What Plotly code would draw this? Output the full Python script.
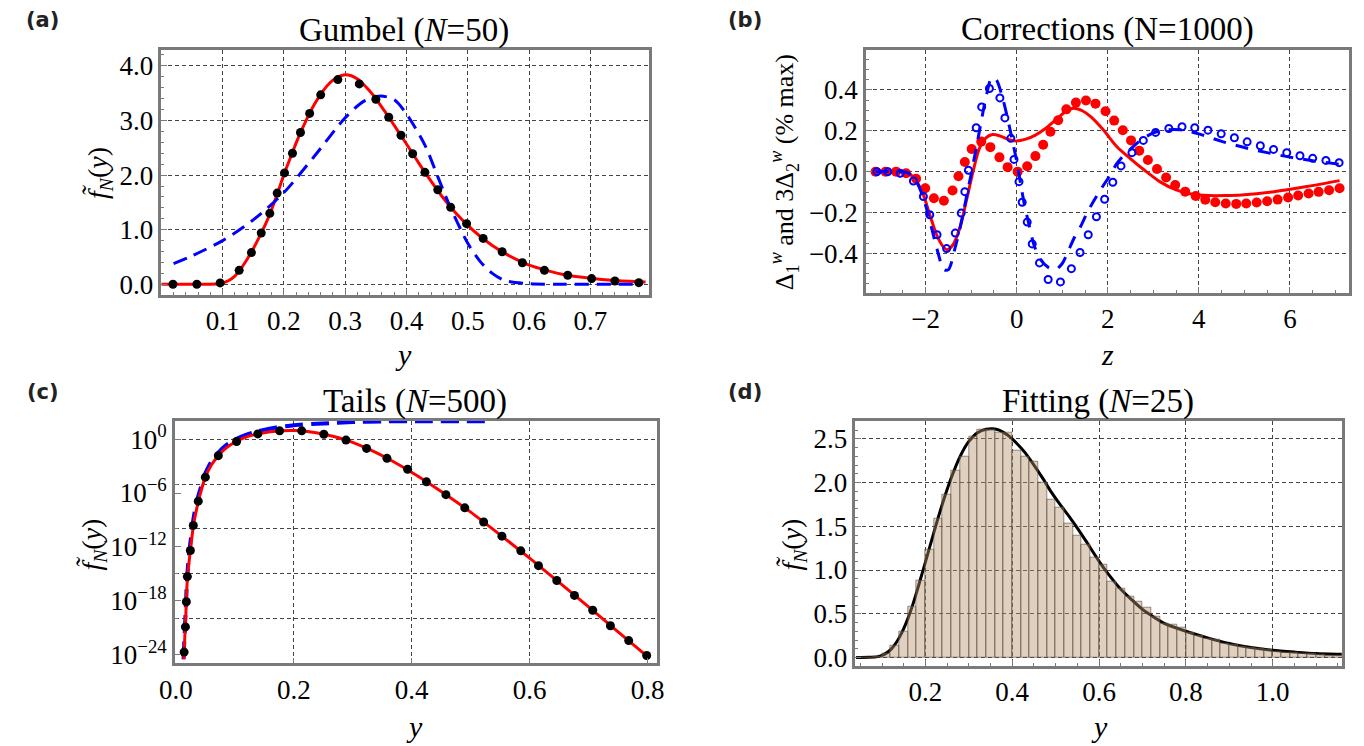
import plotly.graph_objects as go

W, H = 1364, 746

# ---------------- (a) Gumbel (N=50) ----------------
a_exact_x = [0.0, 0.05, 0.09, 0.10, 0.11, 0.12, 0.13, 0.14, 0.15, 0.16, 0.17, 0.18, 0.19, 0.20, 0.21, 0.22,
             0.23, 0.24, 0.25, 0.26, 0.27, 0.28, 0.29, 0.30, 0.31, 0.32, 0.33, 0.34, 0.35, 0.36, 0.37, 0.38,
             0.39, 0.40, 0.42, 0.44, 0.46, 0.48, 0.50, 0.52, 0.54, 0.56, 0.58, 0.60, 0.63, 0.66, 0.70, 0.74, 0.79]
a_exact_y = [0.0, 0.0, 0.005, 0.025, 0.07, 0.15, 0.29, 0.46, 0.65, 0.87, 1.10, 1.37, 1.68, 2.01, 2.30, 2.59,
             2.85, 3.09, 3.30, 3.48, 3.63, 3.74, 3.81, 3.84, 3.82, 3.76, 3.66, 3.54, 3.40, 3.24, 3.08, 2.91,
             2.74, 2.57, 2.22, 1.89, 1.58, 1.31, 1.08, 0.88, 0.71, 0.57, 0.45, 0.35, 0.25, 0.17, 0.11, 0.07, 0.04]
a_gumbel_x = [0.02, 0.05, 0.10, 0.15, 0.20, 0.25, 0.30, 0.33, 0.357, 0.38, 0.40, 0.43, 0.45, 0.47, 0.50,
              0.52, 0.54, 0.56, 0.60, 0.65, 0.78]
a_gumbel_y = [0.38, 0.52, 0.80, 1.18, 1.68, 2.35, 3.05, 3.35, 3.45, 3.38, 3.12, 2.55, 2.00, 1.45, 0.75,
              0.42, 0.20, 0.07, 0.01, 0.0, 0.0]
a_sim_x = [0.019, 0.058, 0.096, 0.127, 0.147, 0.163, 0.177, 0.189, 0.201, 0.214, 0.227, 0.242, 0.260, 0.288,
           0.323, 0.350, 0.371, 0.391, 0.410, 0.430, 0.451, 0.472, 0.498, 0.525, 0.556, 0.589, 0.625, 0.663,
           0.702, 0.740, 0.779]
a_sim_y = [0.0, 0.0, 0.025, 0.255, 0.58, 0.94, 1.30, 1.67, 2.04, 2.40, 2.78, 3.13, 3.47, 3.75,
           3.67, 3.39, 3.06, 2.73, 2.39, 2.05, 1.73, 1.41, 1.11, 0.84, 0.595, 0.395, 0.255, 0.165,
           0.104, 0.06, 0.03]
a_xticks = [0.1, 0.2, 0.3, 0.4, 0.5, 0.6, 0.7]
a_yticks = [0.0, 1.0, 2.0, 3.0, 4.0]

# ---------------- (b) Corrections (N=1000) ----------------
b_line1_z = [-3.1, -2.6, -2.4, -2.2, -2.05, -1.91, -1.76, -1.62, -1.53, -1.40, -1.25, -1.11, -0.96, -0.82,
             -0.67, -0.53, -0.38, -0.20, -0.02, 0.20, 0.41, 0.63, 0.85, 1.07, 1.25, 1.45, 1.63, 1.9, 2.2,
             2.5, 2.8, 3.14, 3.5, 3.86, 4.22, 4.58, 4.94, 5.65, 6.37, 7.09]
b_line1_v = [0.0, 0.0, -0.004, -0.049, -0.114, -0.211, -0.309, -0.366, -0.382, -0.358, -0.276, -0.146, 0.0,
             0.114, 0.167, 0.182, 0.176, 0.159, 0.150, 0.159, 0.179, 0.211, 0.252, 0.293, 0.310, 0.297,
             0.268, 0.205, 0.122, 0.063, 0.008, -0.049, -0.089, -0.111, -0.117, -0.117, -0.114, -0.098,
             -0.073, -0.044]
b_dots1_z = [-3.1, -2.88, -2.65, -2.43, -2.21, -2.01, -1.82, -1.6, -1.41, -1.28, -1.14, -0.99, -0.78, -0.58,
             -0.38, -0.20, 0.02, 0.23, 0.41, 0.58, 0.74, 0.91, 1.09, 1.30, 1.52, 1.73, 1.95, 2.14, 2.33,
             2.51, 2.69, 2.88, 3.08, 3.28, 3.48, 3.70, 3.93, 4.14, 4.36, 4.59, 4.82, 5.04, 5.27, 5.50,
             5.73, 5.96, 6.18, 6.41, 6.63, 6.86, 7.09]
b_dots1_v = [0.0, 0.0, 0.0, -0.008, -0.035, -0.081, -0.13, -0.143, -0.092, -0.023, 0.047, 0.111, 0.147,
             0.12, 0.07, 0.022, 0.0, 0.026, 0.076, 0.132, 0.195, 0.252, 0.305, 0.338, 0.348, 0.333, 0.296,
             0.25, 0.203, 0.153, 0.102, 0.057, 0.013, -0.029, -0.065, -0.098, -0.119, -0.138, -0.150,
             -0.156, -0.158, -0.156, -0.151, -0.145, -0.137, -0.127, -0.117, -0.107, -0.099, -0.091, -0.081]
b_line2_z = [-3.1, -2.6, -2.4, -2.2, -2.05, -1.9, -1.75, -1.6, -1.5, -1.35, -1.22, -1.1, -1.0, -0.89, -0.78,
             -0.67, -0.55, -0.45, -0.31, -0.2, -0.09, 0.0, 0.09, 0.17, 0.27, 0.38, 0.52, 0.7, 0.85, 1.0,
             1.11, 1.25, 1.4, 1.55, 1.7, 1.85, 2.0, 2.2, 2.35, 2.5, 2.7, 3.0, 3.3, 3.6, 4.0, 4.5, 5.0,
             5.5, 6.0, 6.5, 7.1]
b_line2_v = [0.0, 0.0, -0.005, -0.05, -0.13, -0.25, -0.38, -0.48, -0.48, -0.37, -0.25, -0.12, -0.01, 0.115,
             0.245, 0.37, 0.46, 0.45, 0.36, 0.26, 0.146, 0.05, -0.065, -0.163, -0.26, -0.36, -0.43, -0.47,
             -0.48, -0.45, -0.40, -0.33, -0.27, -0.20, -0.14, -0.085, -0.035, 0.04, 0.08, 0.11, 0.15, 0.19,
             0.205, 0.205, 0.185, 0.148, 0.118, 0.093, 0.071, 0.053, 0.036]
b_dots2_z = [-3.07, -2.83, -2.56, -2.27, -2.05, -1.91, -1.75, -1.54, -1.35, -1.22, -1.14, -1.06, -0.89,
             -0.77, -0.60, -0.37, -0.26, -0.13, -0.06, 0.05, 0.12, 0.23, 0.34, 0.50, 0.69, 0.96, 1.20,
             1.39, 1.57, 1.75, 1.93, 2.11, 2.29, 2.53, 2.78, 3.05, 3.34, 3.63, 3.91, 4.20, 4.49, 4.78,
             5.06, 5.35, 5.64, 5.93, 6.22, 6.50, 6.79, 7.08]
b_dots2_v = [0.0, 0.0, -0.008, -0.046, -0.122, -0.211, -0.309, -0.377, -0.301, -0.203, -0.098, 0.007,
             0.215, 0.317, 0.407, 0.361, 0.263, 0.163, 0.06, -0.049, -0.15, -0.247, -0.354, -0.447,
             -0.528, -0.54, -0.475, -0.396, -0.309, -0.221, -0.135, -0.052, 0.028, 0.093, 0.153, 0.192,
             0.211, 0.220, 0.215, 0.203, 0.185, 0.166, 0.146, 0.127, 0.109, 0.093, 0.078, 0.065, 0.055,
             0.044]
b_xticks = [-2, 0, 2, 4, 6]
b_yticks = [-0.4, -0.2, 0.0, 0.2, 0.4]

# ---------------- (c) Tails (N=500), values are log10 f ----------------
c_exact_x = [0.0135, 0.015, 0.017, 0.019, 0.022, 0.026, 0.03, 0.035, 0.04, 0.05, 0.06, 0.072, 0.085, 0.1,
             0.12, 0.14, 0.16, 0.18, 0.2, 0.22, 0.25, 0.29, 0.33, 0.37, 0.41, 0.45, 0.5, 0.55, 0.6, 0.65,
             0.7, 0.75, 0.8]
c_exact_log = [-24.5, -22.3, -19.4, -16.1, -13.9, -11.6, -9.5, -7.85, -6.45, -4.23, -2.9, -1.84, -1.0,
               -0.35, 0.25, 0.6, 0.82, 0.93, 0.95, 0.88, 0.57, -0.13, -1.2, -2.55, -4.1, -5.83, -8.12,
               -10.65, -13.25, -15.95, -18.67, -21.45, -24.2]
c_gumbel_x = [0.013, 0.015, 0.017, 0.019, 0.022, 0.026, 0.03, 0.035, 0.04, 0.05, 0.06, 0.072, 0.085, 0.1,
              0.12, 0.14, 0.17, 0.2, 0.25, 0.3, 0.35, 0.4, 0.53]
c_gumbel_log = [-24.5, -21.5, -18.5, -15.5, -13.0, -10.8, -8.8, -7.1, -5.9, -3.8, -2.5, -1.5, -0.7, -0.05,
                0.5, 0.9, 1.3, 1.55, 1.75, 1.9, 1.97, 2.0, 2.0]
c_sim_x = [0.0140, 0.0162, 0.0178, 0.0195, 0.0246, 0.0296, 0.038, 0.050, 0.072, 0.103, 0.139, 0.176,
           0.2135, 0.251, 0.2885, 0.3235, 0.358, 0.393, 0.425, 0.458, 0.490, 0.522, 0.553, 0.585, 0.615,
           0.646, 0.676, 0.707, 0.737, 0.768, 0.7985]
c_sim_log = [-23.7, -20.9, -18.1, -15.3, -12.4, -9.6, -6.9, -4.23, -1.84, -0.26, 0.58, 0.92, 0.92, 0.55,
             -0.11, -1.03, -2.14, -3.35, -4.75, -6.18, -7.65, -9.22, -10.8, -12.43, -14.08, -15.73,
             -17.39, -19.04, -20.77, -22.42, -24.08]
c_xticks = [0.0, 0.2, 0.4, 0.6, 0.8]
c_ytick_exp = [0, -6, -12, -18, -24]
c_ygrid_exp = [0, -5, -10, -15, -20]
c_xgrid = [0.2, 0.4, 0.6]

# ---------------- (d) Fitting (N=25) ----------------
d_bin_left = [0.04, 0.06, 0.08, 0.10, 0.12, 0.14, 0.16, 0.18, 0.20, 0.22, 0.24, 0.26, 0.28, 0.30, 0.32, 0.34,
              0.36, 0.38, 0.40, 0.42, 0.44, 0.46, 0.48, 0.50, 0.52, 0.54, 0.56, 0.58, 0.60, 0.62, 0.64,
              0.66, 0.68, 0.70, 0.72, 0.74, 0.76, 0.78, 0.80, 0.82, 0.84, 0.86, 0.88, 0.90, 0.92, 0.94,
              0.96, 0.98, 1.00, 1.02, 1.04, 1.06, 1.08, 1.10, 1.12, 1.14]
d_bin_height = [0.0, 0.0, 0.005, 0.04, 0.14, 0.30, 0.58, 0.88, 1.23, 1.59, 1.86, 2.14, 2.29, 2.52, 2.60, 2.60,
                2.57, 2.57, 2.36, 2.29, 2.24, 2.00, 1.80, 1.71, 1.53, 1.39, 1.29, 1.14, 1.06, 0.87, 0.79,
                0.70, 0.64, 0.566, 0.47, 0.385, 0.37, 0.34, 0.28, 0.245, 0.22, 0.20, 0.16, 0.145, 0.126,
                0.115, 0.096, 0.085, 0.07, 0.059, 0.051, 0.047, 0.04, 0.032, 0.025, 0.025]
d_bin_width = 0.02
d_fit_x = [0.04, 0.07, 0.09, 0.10, 0.11, 0.12, 0.13, 0.14, 0.15, 0.16, 0.17, 0.18, 0.19, 0.20, 0.22, 0.24,
           0.26, 0.28, 0.30, 0.32, 0.34, 0.355, 0.37, 0.39, 0.41, 0.43, 0.45, 0.47, 0.49, 0.51, 0.53,
           0.55, 0.57, 0.60, 0.625, 0.65, 0.70, 0.75, 0.80, 0.85, 0.90, 0.95, 1.00, 1.05, 1.10, 1.16]
d_fit_y = [0.0, 0.002, 0.01, 0.025, 0.05, 0.09, 0.15, 0.23, 0.33, 0.45, 0.59, 0.75, 0.92, 1.09, 1.44, 1.77,
           2.06, 2.30, 2.47, 2.57, 2.61, 2.615, 2.60, 2.54, 2.45, 2.34, 2.20, 2.05, 1.89, 1.75, 1.62,
           1.48, 1.33, 1.10, 0.93, 0.78, 0.55, 0.39, 0.30, 0.225, 0.16, 0.115, 0.082, 0.062, 0.045, 0.036]
d_xticks = [0.2, 0.4, 0.6, 0.8, 1.0]
d_yticks = [0.0, 0.5, 1.0, 1.5, 2.0, 2.5]

RED = "#ff0000"
BLUE = "#0000ff"
FRAME = "#7a7a7a"
GRID = "#444444"
SERIF = "Liberation Serif"

fig = go.Figure()

# (a)
fig.add_trace(go.Scatter(x=a_exact_x, y=a_exact_y, mode="lines", xaxis="x", yaxis="y",
                         line=dict(color=RED, width=3, shape="spline", smoothing=0.6)))
fig.add_trace(go.Scatter(x=a_gumbel_x, y=a_gumbel_y, mode="lines", xaxis="x", yaxis="y",
                         line=dict(color=BLUE, width=3, dash="14px,8px", shape="spline", smoothing=0.8)))
fig.add_trace(go.Scatter(x=a_sim_x, y=a_sim_y, mode="markers", xaxis="x", yaxis="y",
                         marker=dict(color="black", size=9)))

# (b)
fig.add_trace(go.Scatter(x=b_line1_z, y=b_line1_v, mode="lines", xaxis="x2", yaxis="y2",
                         line=dict(color=RED, width=3, shape="spline", smoothing=0.8)))
fig.add_trace(go.Scatter(x=b_dots1_z, y=b_dots1_v, mode="markers", xaxis="x2", yaxis="y2",
                         marker=dict(color=RED, size=10)))
fig.add_trace(go.Scatter(x=b_line2_z, y=b_line2_v, mode="lines", xaxis="x2", yaxis="y2",
                         line=dict(color=BLUE, width=3, dash="13px,10px", shape="spline", smoothing=0.8)))
fig.add_trace(go.Scatter(x=b_dots2_z, y=b_dots2_v, mode="markers", xaxis="x2", yaxis="y2",
                         marker=dict(symbol="circle-open", color=BLUE, size=7, line=dict(width=2, color=BLUE))))

# (c)
fig.add_trace(go.Scatter(x=c_gumbel_x, y=c_gumbel_log, mode="lines", xaxis="x3", yaxis="y3",
                         line=dict(color=BLUE, width=4, dash="18px,8px", shape="spline", smoothing=0.5)))
fig.add_trace(go.Scatter(x=c_exact_x, y=c_exact_log, mode="lines", xaxis="x3", yaxis="y3",
                         line=dict(color=RED, width=3, shape="spline", smoothing=0.5)))
fig.add_trace(go.Scatter(x=c_sim_x, y=c_sim_log, mode="markers", xaxis="x3", yaxis="y3",
                         marker=dict(color="black", size=9)))

# (d)
fig.add_trace(go.Scatter(x=d_fit_x, y=d_fit_y, mode="lines", xaxis="x4", yaxis="y4",
                         line=dict(color="black", width=3, shape="spline", smoothing=0.6)))
d_centers = [l + d_bin_width / 2 for l in d_bin_left]
fig.add_trace(go.Bar(x=d_centers, y=d_bin_height, width=d_bin_width, xaxis="x4", yaxis="y5",
                     marker=dict(color="rgba(179,142,104,0.42)",
                                 line=dict(color="rgba(90,75,65,0.6)", width=1))))


def tf():
    return dict(family=SERIF, size=27, color="black")


def minor_ticks(dtick):
    return dict(dtick=dtick, ticks="inside", ticklen=3, tickcolor=FRAME, tickwidth=1, showgrid=False)


def grid_minor(vals):
    return dict(tickmode="array", tickvals=vals, showgrid=True, gridcolor=GRID, gridwidth=1,
                griddash="4px,3px", ticks="inside", ticklen=3, tickcolor=FRAME)


def xax(domain, rng, tickvals, fmt, anchor, grid=True, minor=None):
    d = dict(domain=domain, range=rng, anchor=anchor, tickmode="array", tickvals=tickvals,
             tickformat=fmt, tickfont=tf(), showline=True, linecolor=FRAME, linewidth=2.5,
             mirror=True, ticks="inside", ticklen=6, tickcolor=FRAME, tickwidth=1,
             showgrid=grid, gridcolor=GRID, gridwidth=1, griddash="4px,3px", zeroline=False,
             ticklabelstandoff=0)
    if minor is not None:
        d["minor"] = minor
    return d


def yax(domain, rng, tickvals, fmt, anchor, grid=True, minor=None, ticktext=None):
    d = dict(domain=domain, range=rng, anchor=anchor, tickmode="array", tickvals=tickvals,
             tickfont=tf(), showline=True, linecolor=FRAME, linewidth=2.5,
             mirror=True, ticks="inside", ticklen=6, tickcolor=FRAME, tickwidth=1,
             showgrid=grid, gridcolor=GRID, gridwidth=1, griddash="4px,3px", zeroline=False)
    if fmt is not None:
        d["tickformat"] = fmt
    if ticktext is not None:
        d["ticktext"] = ticktext
    if minor is not None:
        d["minor"] = minor
    return d


def px(x):
    return x / W


def py(y):
    return 1 - y / H


c_ticktext = ["10<sup>%s</sup>" % (str(e).replace("-", "\u2212")) for e in c_ytick_exp]

fig.update_layout(
    width=W, height=H, margin=dict(l=0, r=0, t=0, b=0),
    font=dict(family=SERIF, size=27, color="black"),
    paper_bgcolor="white", plot_bgcolor="white", showlegend=False, bargap=0,
    xaxis=xax([px(147.8), px(643.5)], [0.0, 0.795], a_xticks, ".1f", "y", minor=minor_ticks(0.02)),
    yaxis=yax([py(298), py(50)], [-0.2, 4.3], a_yticks, ".1f", "x", minor=minor_ticks(0.2)),
    xaxis2=xax([px(864.6), px(1356)], [-3.31, 7.30], b_xticks, "d", "y2", minor=minor_ticks(0.5)),
    yaxis2=yax([py(295.7), py(50)], [-0.594, 0.598], b_yticks, ".1f", "x2", minor=minor_ticks(0.05)),
    xaxis3=xax([px(161.7), px(652)], [-0.0015, 0.816], c_xticks, ".1f", "y3", grid=False,
               minor=grid_minor(c_xgrid)),
    yaxis3=yax([py(669.7), py(424.7)], [-24.96, 2.05], c_ytick_exp, None, "x3", grid=False,
               minor=grid_minor(c_ygrid_exp), ticktext=c_ticktext),
    xaxis4=xax([px(853.7), px(1348.5)], [0.0385, 1.159], d_xticks, ".1f", "y4", minor=minor_ticks(0.05)),
    yaxis4=yax([py(672.3), py(424.7)], [-0.097, 2.707], d_yticks, ".1f", "x4", minor=minor_ticks(0.1)),
    yaxis5=dict(overlaying="y4", range=[-0.097, 2.707], visible=False, showgrid=False,
                zeroline=False, anchor="x4"),
)

ann = []


def text(x, y, s, size, family=SERIF, angle=0, color="black"):
    ann.append(dict(x=px(x), y=py(y), xref="paper", yref="paper", text=s, showarrow=False,
                    font=dict(family=family, size=size, color=color), textangle=angle,
                    xanchor="center", yanchor="middle"))


# titles
text(395, 31, "Gumbel (<i>N</i>=50)", 33)
text(1110, 30, "Corrections (N=1000)", 33)
text(406, 405, "Tails (<i>N</i>=500)", 33)
text(1101, 405, "Fitting (<i>N</i>=25)", 33)
# panel labels
for lx, ly, lab in [(27, 20, "(a)"), (741, 20, "(b)"), (27, 396, "(c)"), (741, 396, "(d)")]:
    text(lx, ly, "<b>%s</b>" % lab, 21, family="DejaVu Sans", color="#222222")
# axis titles
fy = "<i>f\u0303</i><sub><i>N</i></sub>(<i>y</i>)"
text(394, 358, "<i>y</i>", 30)
text(85, 175, fy, 28, angle=-90)
text(1110, 358, "<i>z</i>", 30)
text(782, 174, "\u0394<sub>1</sub><sup><i>w</i></sup> and 3\u0394<sub>2</sub><sup><i>w</i></sup> (% max)", 26,
     angle=-90)
text(405, 733, "<i>y</i>", 30)
text(79, 550, fy, 28, angle=-90)
text(1102, 733, "<i>y</i>", 30)
text(791, 550, fy, 28, angle=-90)

fig.update_layout(annotations=ann)
fig.write_html("out.html")
